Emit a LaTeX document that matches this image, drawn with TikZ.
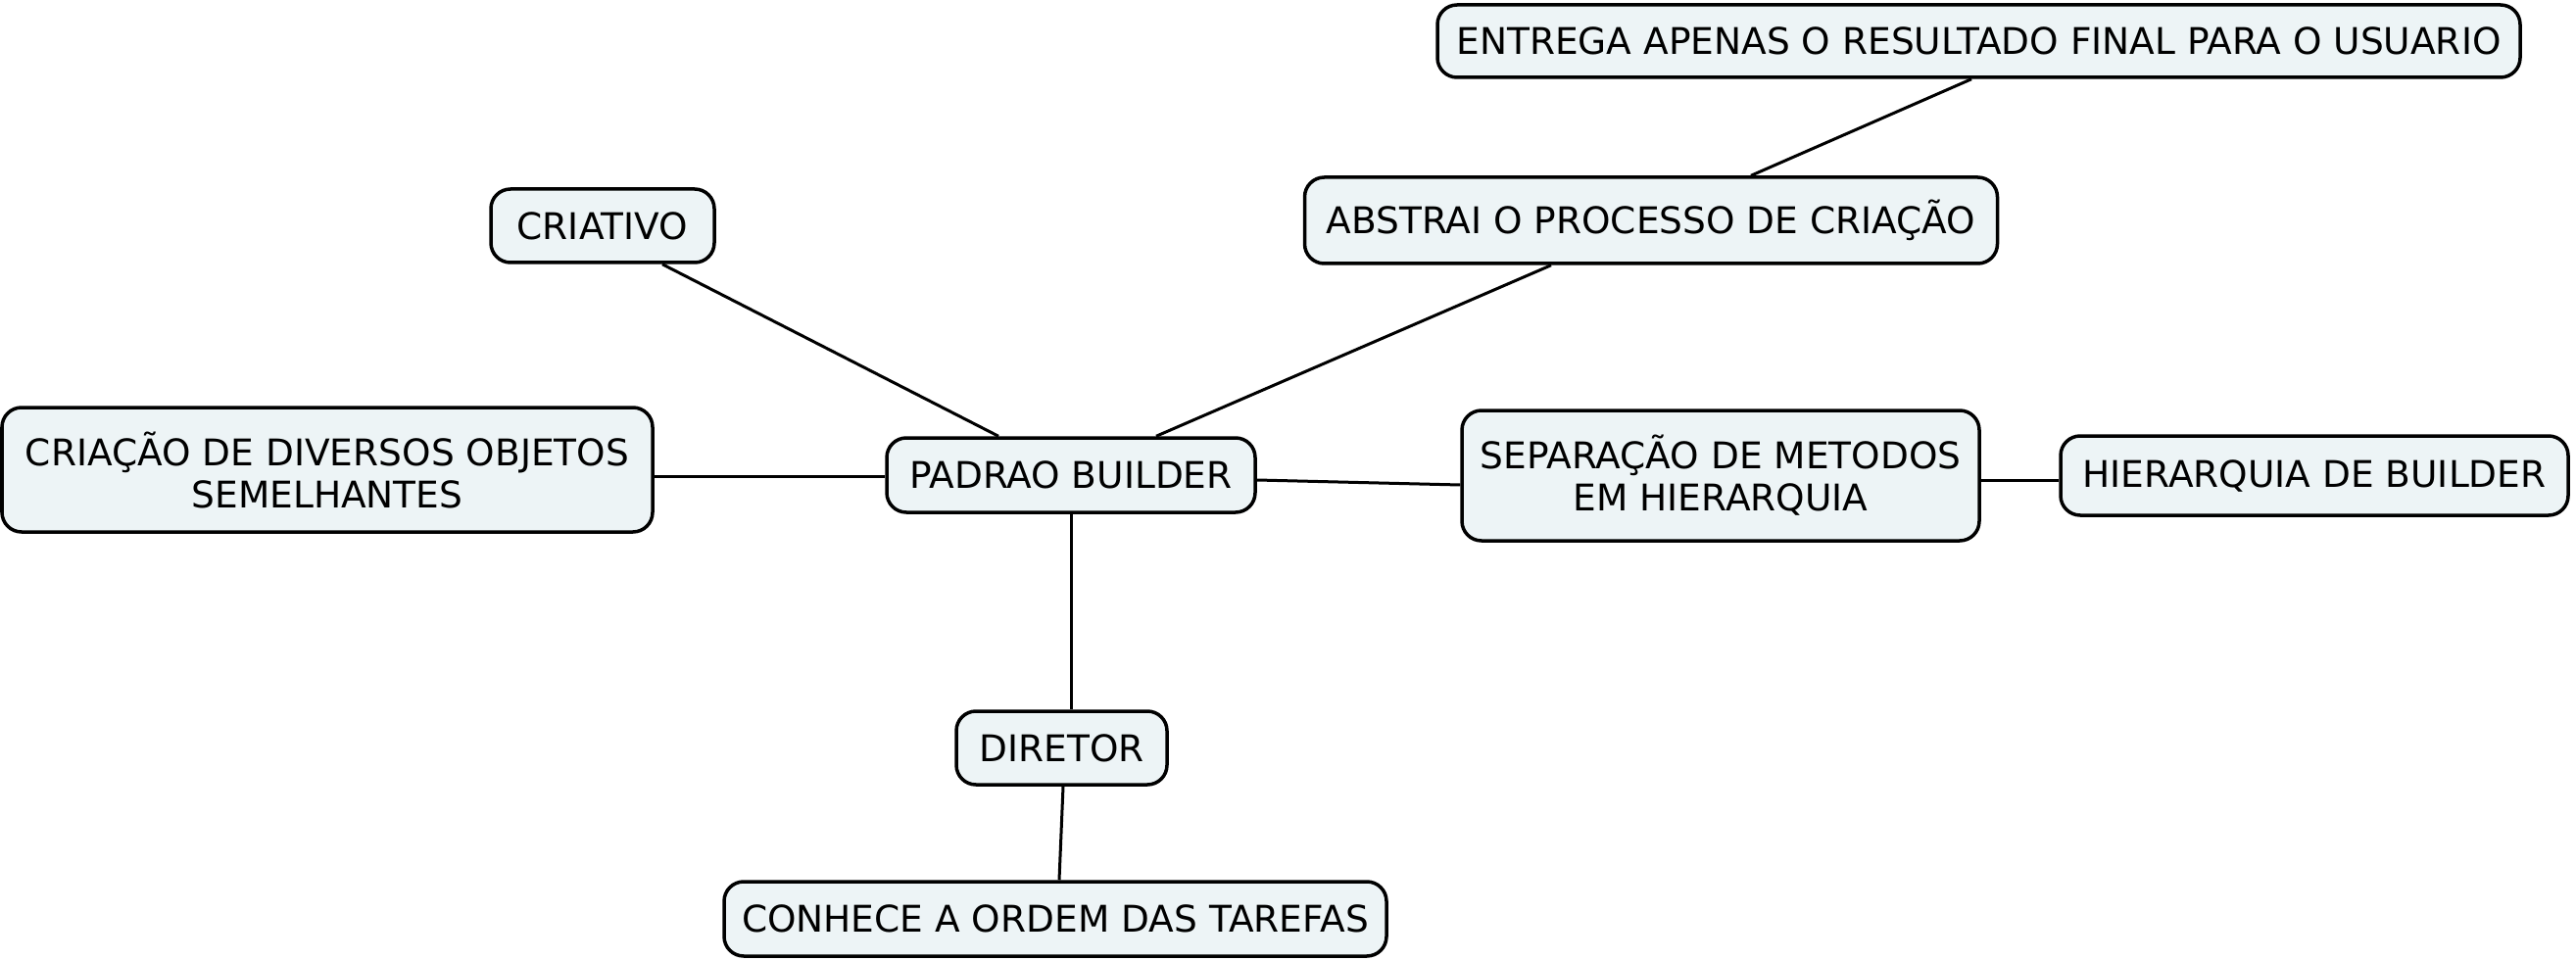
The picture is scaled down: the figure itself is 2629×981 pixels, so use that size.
\documentclass[tikz,border=0pt]{standalone}
\usepackage{fontspec}
\setmainfont{DejaVu Sans}
\definecolor{boxfill}{RGB}{237,244,246}
\tikzset{
  mbox/.style={draw=black, line width=3.5pt, fill=boxfill, rounded corners=20pt,
    align=center, inner sep=0pt, font=\fontsize{37.5}{43}\selectfont},
  link/.style={draw=black, line width=3pt}
}
\begin{document}
\begin{tikzpicture}[x=1pt,y=-1pt]
\useasboundingbox (0,0) rectangle (2629,981);
\node[mbox, minimum width=1105pt, minimum height=74pt] (entrega) at (2019.5,42) {ENTREGA APENAS O RESULTADO FINAL PARA O USUARIO};
\node[mbox, minimum width=707pt, minimum height=88pt] (abstrai) at (1685,225) {ABSTRAI O PROCESSO DE CRIAÇÃO};
\node[mbox, minimum width=228pt, minimum height=75pt] (criativo) at (615,230.5) {CRIATIVO};
\node[mbox, minimum width=664pt, minimum height=127pt] (criacao) at (334,479.5) {CRIAÇÃO DE DIVERSOS OBJETOS\\SEMELHANTES};
\node[mbox, minimum width=376pt, minimum height=76pt] (padrao) at (1093,485) {PADRAO BUILDER};
\node[mbox, minimum width=528pt, minimum height=133pt] (separacao) at (1756,485.5) {SEPARAÇÃO DE METODOS\\EM HIERARQUIA};
\node[mbox, minimum width=518pt, minimum height=81pt] (hierarquia) at (2362,485.5) {HIERARQUIA DE BUILDER};
\node[mbox, minimum width=215pt, minimum height=75pt] (diretor) at (1083.5,763.5) {DIRETOR};
\node[mbox, minimum width=676pt, minimum height=76pt] (conhece) at (1077,938) {CONHECE A ORDEM DAS TAREFAS};

\draw[link] ([xshift=61pt]criativo.south) -- ([xshift=-74pt]padrao.north);
\draw[link] ([xshift=87pt]padrao.north) -- ([xshift=-102pt]abstrai.south);
\draw[link] ([xshift=102pt]abstrai.north) -- ([xshift=-7.5pt]entrega.south);
\draw[link] ([yshift=-6.5pt]criacao.east) -- ([yshift=-1pt]padrao.west);
\draw[link] ([yshift=-5pt]padrao.east) -- ([yshift=-9.5pt]separacao.west);
\draw[link] ([yshift=-4.5pt]separacao.east) -- ([yshift=-4.5pt]hierarquia.west);
\draw[link] (padrao.south) -- ([xshift=9.5pt]diretor.north);
\draw[link] ([xshift=1.5pt]diretor.south) -- ([xshift=4pt]conhece.north);
\end{tikzpicture}
\end{document}
